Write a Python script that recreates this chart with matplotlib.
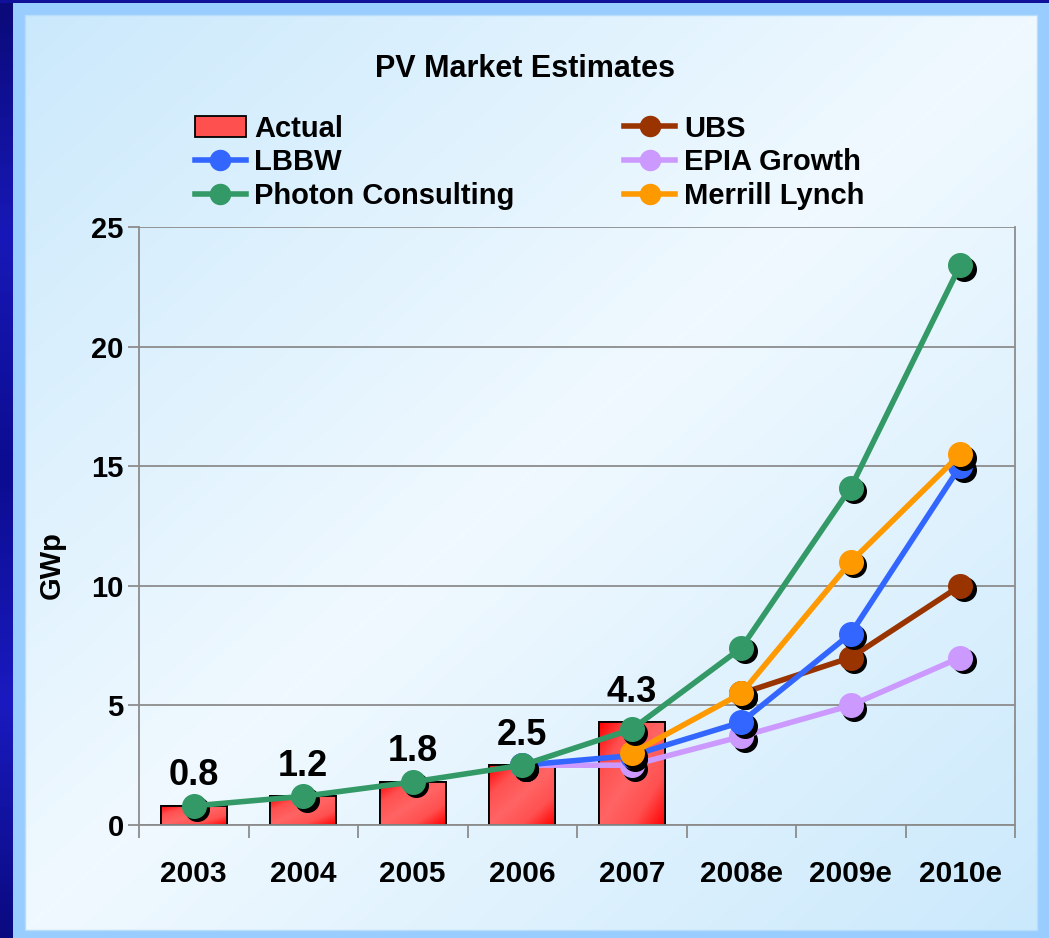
import numpy as np
import matplotlib
matplotlib.use("Agg")
import matplotlib.pyplot as plt
from matplotlib.patches import Rectangle
from matplotlib.transforms import ScaledTranslation
from matplotlib.colors import LinearSegmentedColormap

plt.rcParams['font.family'] = ['Liberation Sans', 'DejaVu Sans']
plt.rcParams['font.weight'] = 'bold'

# data
years = ['2003', '2004', '2005', '2006', '2007', '2008e', '2009e', '2010e']
actual = [0.8, 1.2, 1.8, 2.5, 4.3]

epia_x = [3, 4, 5, 6, 7]
epia = [2.5, 2.5, 3.7, 5.0, 7.0]
ubs_x = [5, 6, 7]
ubs = [5.5, 7.0, 10.0]
lbbw_x = [3, 4, 5, 6, 7]
lbbw = [2.5, 2.9, 4.3, 8.0, 15.0]
merrill_x = [4, 5, 6, 7]
merrill = [3.0, 5.5, 11.0, 15.5]
photon_x = [0, 1, 2, 3, 4, 5, 6, 7]
photon = [0.8, 1.2, 1.8, 2.5, 4.0, 7.4, 14.1, 23.4]

W, H = 1049, 938
fig = plt.figure(figsize=(W / 100, H / 100), dpi=100)
fig.patch.set_facecolor('#99CCFF')

# background frame
bg = fig.add_axes([0, 0, 1, 1], zorder=-10)
bg.set_xlim(0, W)
bg.set_ylim(H, 0)
bg.axis('off')
strip = np.linspace(0, 1, 200).reshape(-1, 1)
blue_cm = LinearSegmentedColormap.from_list('b', ['#0A0A7A', '#1818B8', '#0C0C90', '#1A1AC0', '#0A0A80'])
bg.imshow(strip, cmap=blue_cm, extent=[0, 13, H, 0], aspect='auto')
bg.add_patch(Rectangle((0, 0), W, 3, color='#10109A', lw=0))
yy, xx = np.mgrid[0:1:200j, 0:1:200j]
d = (xx + yy) / 2
panel_val = 1 - np.abs(d - 0.5) * 2
panel_cm = LinearSegmentedColormap.from_list('p', ['#CBE9FC', '#F0F9FF'])
bg.imshow(panel_val, cmap=panel_cm, extent=[25, 1037, 930, 15], aspect='auto')
bg.add_patch(Rectangle((25, 15), 1012, 915, fill=False, ec='#B8DDF8', lw=1))

ax = fig.add_axes([139 / W, 1 - 825 / H, 876 / W, 598 / H])
ax.set_facecolor('none')
ax.set_xlim(-0.5, 7.5)
ax.set_ylim(0, 25)

grid_c = '#8C8C8C'
ax.spines['top'].set_visible(False)
for s in ['left', 'right', 'bottom']:
    ax.spines[s].set_color(grid_c)
    ax.spines[s].set_linewidth(1.3)
ax.set_yticks([0, 5, 10, 15, 20, 25])
ax.yaxis.grid(True, color=grid_c, lw=1.3)
ax.set_axisbelow(True)
ax.tick_params(axis='y', length=8, width=1.3, color=grid_c, pad=3, labelsize=21)
ax.set_xticks(range(len(years)))
ax.set_xticklabels(years)
ax.tick_params(axis='x', which='major', length=0, pad=25, labelsize=21.5)
ax.set_xticks(np.arange(-0.5, 8, 1), minor=True)
ax.tick_params(axis='x', which='minor', length=9, width=1.3, color=grid_c, direction='out')

# bars with red diagonal gradient
red_cm = LinearSegmentedColormap.from_list('r', ['#FF6464', '#FF5050', '#FF0000'])
bars = ax.bar(range(len(actual)), actual, width=0.6, color='#FF5050',
              edgecolor='black', lw=1.3, zorder=2, label='Actual')
gy, gx = np.mgrid[0:1:100j, 0:1:100j]
grad = np.abs(gx - gy)
for b in bars:
    x0, y0 = b.get_x(), b.get_y()
    im = ax.imshow(grad, cmap=red_cm, extent=[x0, x0 + b.get_width(), y0, y0 + b.get_height()],
                   origin='lower', aspect='auto', zorder=2.1)
    im.set_clip_path(b)
    ax.add_patch(Rectangle((x0, y0), b.get_width(), b.get_height(), fill=False,
                           ec='black', lw=1.3, zorder=2.2))
ax.set_xlim(-0.5, 7.5)
ax.set_ylim(0, 25)

for i, v in enumerate(actual):
    ax.annotate(f'{v:.1f}', (i, v), xytext=(0, 9), textcoords='offset points',
                ha='center', va='bottom', fontsize=26, fontweight='bold', zorder=6)

shadow = ax.transData + ScaledTranslation(3.5 / 100, -3.5 / 100, fig.dpi_scale_trans)
series = [
    ('EPIA Growth', epia_x, epia, '#CC99FF'),
    ('UBS', ubs_x, ubs, '#993300'),
    ('LBBW', lbbw_x, lbbw, '#3366FF'),
    ('Merrill Lynch', merrill_x, merrill, '#FF9900'),
    ('Photon Consulting', photon_x, photon, '#339966'),
]
handles = {}
z = 3
for name, xs, ys, col in series:
    ax.plot(xs, ys, 'o', color='black', ms=17, transform=shadow, zorder=z, clip_on=False)
    h, = ax.plot(xs, ys, '-o', color=col, lw=4, ms=17, zorder=z + 0.5, label=name, clip_on=False)
    handles[name] = h
    z += 1

order = ['Actual', 'LBBW', 'Photon Consulting', 'UBS', 'EPIA Growth', 'Merrill Lynch']
hs = [bars if n == 'Actual' else handles[n] for n in order]
leg = fig.legend(hs, order, loc='upper left', bbox_to_anchor=(180 / W, 1 - 100 / H),
                 ncol=2, frameon=False, fontsize=21, handlelength=1.75, handletextpad=0.3,
                 columnspacing=3.75, labelspacing=0.2, borderpad=0, markerscale=0.85)

fig.text(525 / W, 1 - 69 / H, 'PV Market Estimates', ha='center', va='center',
         fontsize=22, fontweight='bold')
fig.text(52 / W, 1 - 565 / H, 'GWp', ha='center', va='center', rotation=90,
         fontsize=21, fontweight='bold')

fig.savefig('out.png', dpi=100, facecolor=fig.get_facecolor())
